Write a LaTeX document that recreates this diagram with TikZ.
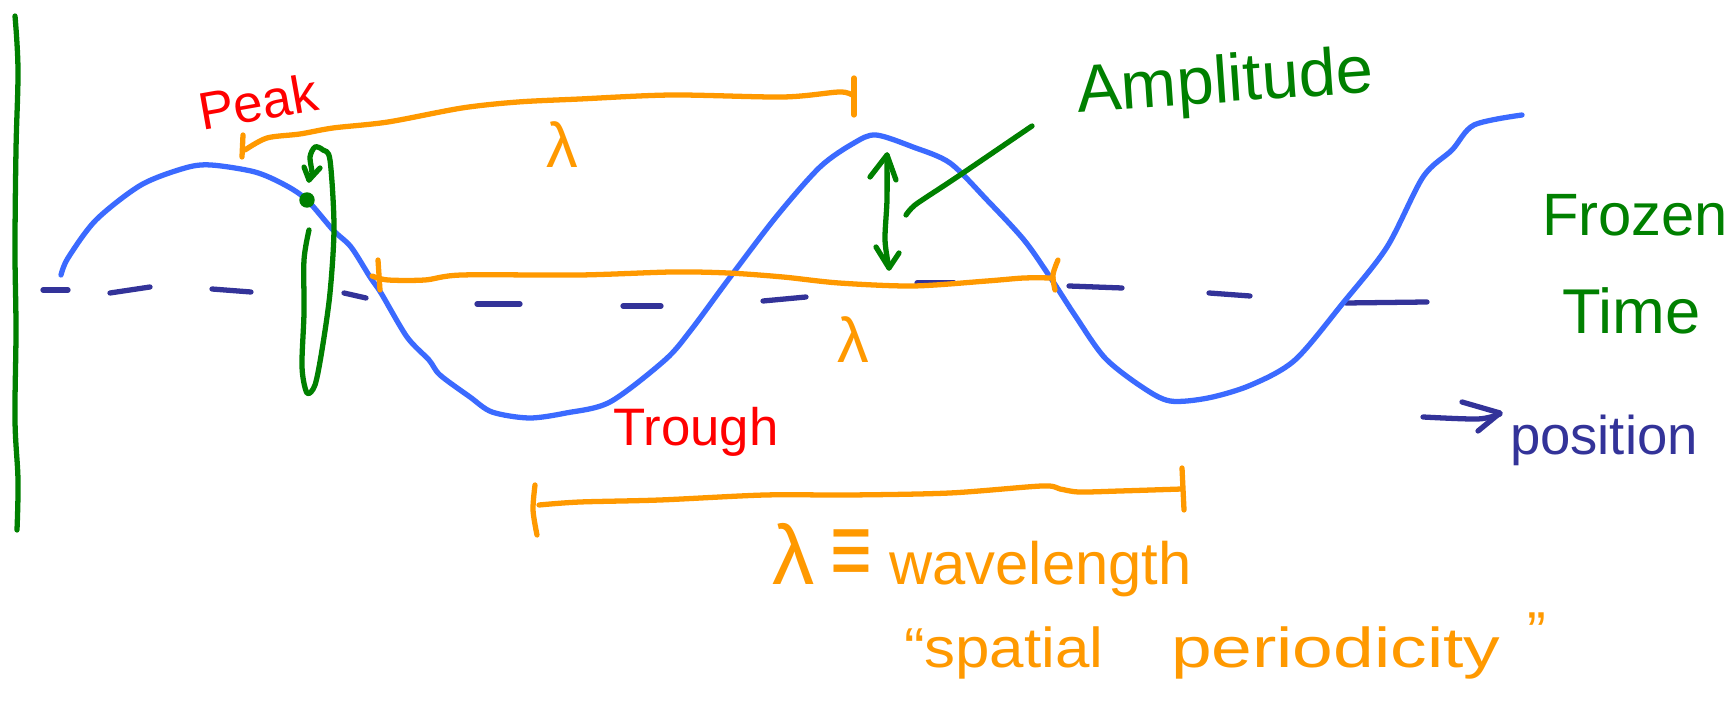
\documentclass[tikz,border=0pt]{standalone}
\usepackage{graphicx}
\usepackage{fontspec}
\setmainfont{Liberation Sans}
\definecolor{wave}{RGB}{59,106,255}
\definecolor{axisblue}{RGB}{51,51,153}
\definecolor{pengreen}{RGB}{0,128,0}
\definecolor{penred}{RGB}{255,0,0}
\definecolor{penorange}{RGB}{255,153,0}
\begin{document}
\begin{tikzpicture}[x=0.01cm,y=-0.01cm,line cap=round,line join=round,
  pen/.style={line width=1.5pt},
  wavepen/.style={pen,draw=wave},
  axispen/.style={pen,draw=axisblue},
  greenpen/.style={pen,draw=pengreen},
  orangepen/.style={pen,draw=penorange},
  txt/.style={inner sep=0pt,outer sep=0pt},
  fs/.style={font=\fontsize{#1}{#1}\selectfont}]
\path[use as bounding box,fill=white] (0,0) rectangle (1733,719);

% left vertical axis
\draw[greenpen] plot[smooth,tension=0.6] coordinates {(15,16) (18,70) (16,150) (15,250) (16,330) (15,420) (18,480) (17,530)};

% dashed horizontal axis
\foreach \a/\b/\c/\d in {43/290/68/290, 110/293/150/287, 212/289/251/292, 344/293/366/298,
  477/304/520/304, 623/306/661/306, 763/301/806/297, 917/283/954/283, 1069/286/1122/288,
  1209/293/1250/296, 1346/303/1427/302}
  \draw[axispen] (\a,\b) -- (\c,\d);

% the wave
\draw[wavepen] plot[smooth,tension=0.5] coordinates {(61,275) (68,258) (96,220) (141,185) (185,168) (211,165) (255,172) (285,185) (307,200) (333,230) (351,247) (370,277) (381,293) (407,337) (429,360) (440,375) (470,397) (492,412) (529,418) (566,413) (610,402) (665,360) (691,330) (728,280) (776,217) (820,167) (854,143) (876,135) (913,147) (950,163) (987,200) (1024,240) (1050,277) (1076,317) (1105,358) (1142,387) (1170,401) (1208,398) (1251,385) (1295,360) (1343,303) (1387,247) (1423,177) (1452,150) (1474,125) (1522,115)};

% top wavelength bracket
\draw[orangepen] (243,135) -- (242,157);
\draw[orangepen] plot[smooth,tension=0.5] coordinates {(245,150) (267,138) (300,134) (333,128) (388,122) (462,108) (518,102) (580,99) (672,95) (783,97) (839,92) (852,95)};
\draw[orangepen] (854,78) -- (854,115);
\node[txt,fs=18,text=penorange] (lamtop) at (562,145) {λ};

% middle wavelength bracket
\draw[orangepen] (378,260) -- (380,290);
\draw[orangepen] plot[smooth,tension=0.5] coordinates {(372,276) (388,280) (425,280) (462,275) (580,275) (672,272) (728,273) (783,277) (839,283) (913,286) (987,281) (1024,278) (1053,278)};
\draw[orangepen] plot[smooth,tension=0.6] coordinates {(1058,260) (1053,275) (1055,290)};
\node[txt,fs=18,text=penorange] (lammid) at (853,340) {λ};

% bottom wavelength bracket
\draw[orangepen] plot[smooth,tension=0.5] coordinates {(535,485) (533,510) (537,535)};
\draw[orangepen] plot[smooth,tension=0.5] coordinates {(539,505) (580,502) (660,500) (765,495) (850,495) (950,493) (1042,486) (1060,489) (1079,492) (1120,491) (1182,489)};
\draw[orangepen] (1182,468) -- (1184,510);

% oscillation of a point
\fill[pengreen] (307,200) circle[radius=2.2pt];
\draw[greenpen] plot[smooth,tension=0.5] coordinates {(309,230) (304,260) (304,313) (302,367) (307,393) (315,385) (322,350) (330,293) (334,227) (330,160) (323,150) (315,147) (310,157) (312,173) (309,180)};
\draw[greenpen] (304,167) -- (309,180) -- (320,168);

% amplitude double arrow and pointer
\draw[greenpen] plot[smooth,tension=0.5] coordinates {(887,155) (887,200) (885,240) (889,268)};
\draw[greenpen] (870,177) -- (887,155) -- (896,180);
\draw[greenpen] (876,247) -- (889,268) -- (899,253);
\draw[greenpen] plot[smooth,tension=0.5] coordinates {(1032,126) (963,173) (942,187) (915,205) (906,215)};

% labels
\node[txt,fs=15,text=penred,rotate=10] (peak) at (258,102) {Peak};
\node[txt,fs=15,text=penred] (trough) at (696,432) {Trough};
\node[txt,fs=19,text=pengreen,rotate=4] (amp) at (1225,85) {Amplitude};
\node[txt,fs=17,text=pengreen,anchor=base west] (frozen) at (1542,236) {Frozen};
\node[txt,fs=18,text=pengreen,anchor=base west] (time) at (1562,334) {Time};

% position arrow
\draw[axispen] plot[smooth,tension=0.5] coordinates {(1423,417) (1478,419) (1500,414)};
\draw[axispen] (1462,402) -- (1500,413) -- (1478,431);
\node[txt,fs=15.5,text=axisblue,anchor=base west] (pos) at (1510,455) {position};

% definition
\node[txt,fs=17,text=penorange,anchor=base west] (def) at (772,585) {{\fontsize{24}{24}\selectfont λ} \scalebox{1.2}[1.7]{≡} wavelength};
\node[txt,fs=16,text=penorange,anchor=base west,xscale=1.1] (spat) at (904,668) {“spatial};
\node[txt,fs=16,text=penorange,anchor=base west,xscale=1.3] (peri) at (1171,668) {periodicity};
\node[txt,fs=16,text=penorange,anchor=base west] (endq) at (1527,652) {”};
\end{tikzpicture}
\end{document}
